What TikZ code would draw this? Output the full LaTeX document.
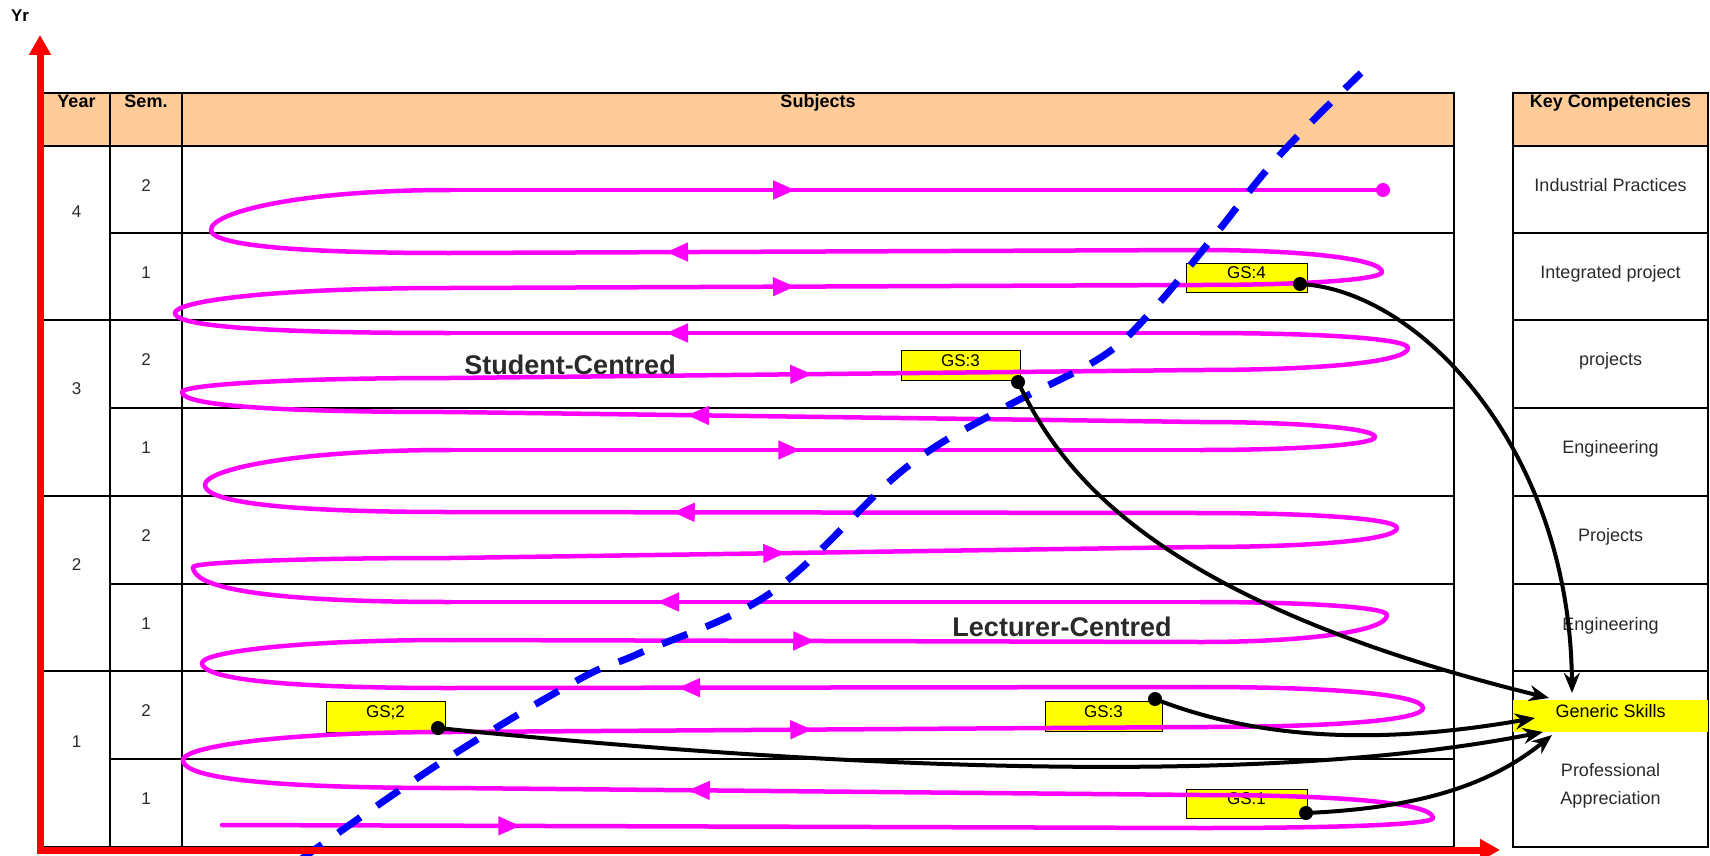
\documentclass[tikz,border=0pt]{standalone}
\usepackage{fontspec}
\setmainfont{Liberation Sans}
\usetikzlibrary{arrows.meta,decorations.markings}

\definecolor{headfill}{HTML}{FFCC99}
\definecolor{spiral}{HTML}{FF00FF}
\definecolor{trend}{HTML}{0000FF}
\definecolor{axisred}{HTML}{FF0000}
\definecolor{gsyellow}{HTML}{FFFF00}
\definecolor{softtext}{HTML}{2A2A2A}

\tikzset{
  rule/.style={line width=1.3pt, black},
  headtext/.style={font=\fontsize{18}{21}\selectfont\bfseries, anchor=base, inner sep=0pt},
  numtext/.style={font=\fontsize{17}{20}\selectfont, text=softtext, inner sep=0pt},
  comptext/.style={font=\fontsize{18}{28}\selectfont, text=softtext, inner sep=0pt, align=center},
  bigtext/.style={font=\fontsize{27}{31}\selectfont\bfseries, text=softtext, inner sep=0pt},
  gsbox/.style={draw=black, line width=1pt, fill=gsyellow, inner sep=0pt,
    font=\fontsize{17}{20}\selectfont, text height=12pt, text depth=10pt},
  gsband/.style={fill=gsyellow, inner sep=0pt, minimum width=195pt, minimum height=32pt,
    font=\fontsize{18}{21}\selectfont, text height=13pt, text depth=10pt},
  spiralline/.style={color=spiral, line width=4.5pt, line cap=round, line join=round},
  strand/.style={spiralline,
    decoration={markings, mark=at position #1 with {\arrow{Triangle[length=22pt,width=18pt]}}},
    postaction={decorate}},
  enddot/.style={circle, fill=spiral, inner sep=0pt, minimum size=14pt},
  trendline/.style={trend, line width=7pt, dash pattern=on 27pt off 20pt},
  link/.style={black, line width=4pt, -{Stealth[length=20pt,width=16pt]}},
  knot/.style={circle, fill=black, inner sep=0pt, minimum size=14pt},
  axisline/.style={axisred, line width=7pt,
    {Triangle[length=20pt,width=21pt]}-{Triangle[length=20pt,width=21pt]}},
}

\begin{document}
\begin{tikzpicture}[x=1pt,y=-1pt]
\useasboundingbox (0,0) rectangle (1710,856);

% header shading
\fill[headfill] (43,93) rectangle (1454,146);
\fill[headfill] (1513,93) rectangle (1708,146);

% main table grid
\draw[rule] (43,93) rectangle (1454,847);
\draw[rule] (110,93) -- (110,847) (182,93) -- (182,847);
\foreach \y in {146,320,496,671} \draw[rule] (43,\y) -- (1454,\y);
\foreach \y in {233,408,584,759} \draw[rule] (110,\y) -- (1454,\y);

% competencies column grid
\draw[rule] (1513,93) rectangle (1708,847);
\foreach \y in {146,233,320,408,496,584,671} \draw[rule] (1513,\y) -- (1708,\y);
\node[gsband] (gsk) at (1610.5,716) {Generic Skills};

% headings
\node[headtext] (hyear) at (76.5,108) {Year};
\node[headtext] (hsem) at (146,108) {Sem.};
\node[headtext] (hsubj) at (818,108) {Subjects};
\node[headtext] (hkey) at (1610.5,108) {Key Competencies};
\node[font=\fontsize{17}{20}\selectfont\bfseries, inner sep=0pt] (yr) at (20,16) {Yr};

% year and semester numbers
\node[numtext] (y4) at (76.5,212) {4};
\node[numtext] (y3) at (76.5,389) {3};
\node[numtext] (y2) at (76.5,565) {2};
\node[numtext] (y1) at (76.5,742) {1};
\foreach \y/\s [count=\i] in {185.5/2,273/1,360/2,447.5/1,535.5/2,623.5/1,710.5/2,798.5/1}
  \node[numtext] (sem\i) at (146,\y) {\s};

% competencies
\node[comptext, anchor=base] (kc1) at (1610.5,191) {Industrial Practices};
\node[comptext, anchor=base] (kc2) at (1610.5,278) {Integrated project};
\node[comptext, anchor=base] (kc3) at (1610.5,365) {projects};
\node[comptext, anchor=base] (kc4) at (1610.5,453) {Engineering};
\node[comptext, anchor=base] (kc5) at (1610.5,541) {Projects};
\node[comptext, anchor=base] (kc6) at (1610.5,630) {Engineering};
\node[comptext] (kc7) at (1610.5,786) {Professional\\Appreciation};

% generic skill boxes
\node[gsbox, minimum width=121pt, minimum height=29pt] (gs4) at (1246.5,277.5) {GS:4};
\node[gsbox, minimum width=119pt, minimum height=30pt] (gs3a) at (960.5,365) {GS:3};
\node[gsbox, minimum width=119pt, minimum height=31pt] (gs2) at (385.5,716.5) {GS;2};
\node[gsbox, minimum width=117pt, minimum height=30pt] (gs3b) at (1103.5,716) {GS:3};
\node[gsbox, minimum width=121pt, minimum height=29pt] (gs1) at (1246.5,803.5) {GS:1};

% spiral: straight runs with direction arrows
\foreach \xa/\ya/\xb/\yb/\p in {
  222/825/1200/828/0.305, 1200/795/450/788/0.683, 450/732/1200/727/0.483,
  1200/687/450/688/0.696, 450/640/1200/642/0.487, 1200/602/450/602/0.724,
  450/558/1200/547/0.447, 1200/513/450/512/0.703, 450/450/1200/450/0.467,
  1200/422/450/412/0.684, 450/378/1200/370/0.483, 1200/333/450/333/0.712,
  450/288/1200/285/0.46, 1200/250/450/253/0.712, 450/190/1383/190/0.37}
  \draw[strand=\p] (\xa,\ya) -- (\xb,\yb);
% spiral: right-hand turns
\foreach \ya/\xr/\ym/\yb in {828/1433/818/795, 727/1423/708/687, 642/1387/615/602,
    547/1397/528/513, 450/1375/437/422, 370/1408/348/333, 285/1382/272/250}
  \draw[spiralline] (1200,\ya) .. controls ({\xr-80},\ya) and (\xr,{\ym+0.6*(\ya-\ym)}) .. (\xr,\ym)
     .. controls (\xr,{\ym-0.6*(\ym-\yb)}) and ({\xr-80},\yb) .. (1200,\yb);
% spiral: left-hand turns
\foreach \ya/\xl/\ym/\yb in {788/183/760/732, 688/202/663/640, 602/193/567/558,
    512/205/485/450, 412/182/392/378, 333/175/313/288, 253/211/230/190}
  \draw[spiralline] (450,\ya) .. controls ({\xl+50},\ya) and (\xl,{\ym+0.5*(\ya-\ym)}) .. (\xl,\ym)
     .. controls (\xl,{\ym-0.45*(\ym-\yb)}) and ({\xl+90},\yb) .. (450,\yb);
\node[enddot] (spiralend) at (1383,190) {};

% centred-ness labels
\node[bigtext] (student) at (570,365) {Student-Centred};
\node[bigtext] (lecturer) at (1062,627) {Lecturer-Centred};

% shift from lecturer- to student-centred
\draw[trendline] plot[smooth, tension=0.6] coordinates {(300,860) (440,763) (578,680) (640,653)
  (772,592) (903,470) (1000,410) (1100,358) (1150,313) (1211,240) (1278,157) (1361,73)};

% links from the boxes to generic skills
\coordinate (d4) at (1300,284);
\coordinate (d3a) at (1018,382);
\coordinate (d2) at (438,728);
\coordinate (d3b) at (1155,699);
\coordinate (d1) at (1306,813);
\coordinate (t4) at (1572,693);
\coordinate (t3a) at (1549,698);
\coordinate (t3b) at (1535,718);
\coordinate (t2) at (1543,732);
\coordinate (t1) at (1552,735);
\draw[link] (d4) .. controls (1420,290) and (1570,450) .. (t4);
\draw[link] (d3a) .. controls (1060,470) and (1150,600) .. (t3a);
\draw[link] (d3b) .. controls (1260,740) and (1380,745) .. (t3b);
\draw[link] (d2) .. controls (800,765) and (1250,790) .. (t2);
\draw[link] (d1) .. controls (1420,808) and (1490,785) .. (t1);
\foreach \d in {d4,d3a,d2,d3b,d1} \node[knot] (k\d) at (\d) {};

% axes
\coordinate (origin) at (40,850);
\coordinate (xtip) at (1500,850);
\coordinate (ytip) at (40,35);
\draw[axisline] (xtip) -- (origin) -- (ytip);
\end{tikzpicture}
\end{document}
